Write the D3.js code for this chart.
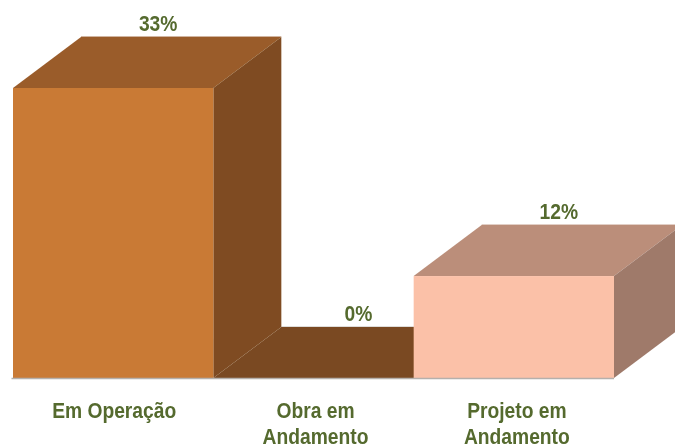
<!DOCTYPE html>
<html><head><meta charset="utf-8">
<script src="https://cdn.jsdelivr.net/npm/d3@7"></script>
<style>html,body{margin:0;padding:0;background:#fff;overflow:hidden}svg{display:block}
text{font-family:"Liberation Sans",Arial,sans-serif;font-weight:700;fill:#546a2e;text-anchor:middle}</style>
</head><body><svg id="c" width="675" height="446">
<defs><filter id="soft" x="-2%" y="-2%" width="104%" height="104%"><feGaussianBlur stdDeviation="0.45"/></filter></defs>
</svg>
<script>
const categories = [["Em Operação"], ["Obra em", "Andamento"], ["Projeto em", "Andamento"]];
const values = [33, 0, 11.6];
const valueLabels = ["33%", "0%", "12%"];
const frontColors = ["#c97a36", "#7a4a22", "#fbc1a8"];
const topColors = ["#9a5c2a", "#7a4a22", "#bb8e7a"];
const sideColors = ["#7f4c21", "#7a4a22", "#9f7a6a"];

const dx = 68, dy = 51, squeeze = 0.875, fontSize = 22;
const svg = d3.select("#c");
const root = svg.append("g").attr("filter", "url(#soft)");
const x = d3.scaleBand().domain(d3.range(values.length)).range([13, 614]).padding(0);
const y = d3.scaleLinear().domain([0, 33]).range([378, 88]);
const pts = a => a.map(p => p.join(",")).join(" ");

// draw back to front: bar 2 floor first, then bar 1 and bar 3
const order = [1, 0, 2];
const g = root.selectAll("g.bar").data(order).join("g").attr("class", "bar");
g.each(function (i) {
  const s = d3.select(this), l = x(i), r = l + x.bandwidth(), t = y(values[i]), b = y(0);
  s.append("polygon").attr("fill", topColors[i])
    .attr("points", pts([[l, t], [l + dx, t - dy], [r + dx, t - dy], [r, t]]));
  s.append("polygon").attr("fill", sideColors[i])
    .attr("points", pts([[r, t], [r + dx, t - dy], [r + dx, b - dy], [r, b]]));
  if (values[i] > 0) s.append("rect").attr("x", l).attr("y", t).attr("width", r - l).attr("height", b - t).attr("fill", frontColors[i]);
  s.append("line").attr("x1", l + dx).attr("x2", r + dx).attr("y1", t - dy - .5).attr("y2", t - dy - .5)
    .attr("stroke", values[i] > 0 ? topColors[i] : "#b9b4ae").attr("stroke-opacity", .45);
});
// baseline
root.append("line").attr("x1", x(0) - 1.5).attr("x2", x(2) + x.bandwidth()).attr("y1", y(0) + .5).attr("y2", y(0) + .5)
  .attr("stroke", "#b5b0ac").attr("stroke-width", 1.5);

const labels = root.append("g");
labels.selectAll("text.v").data(values).join("text").attr("class", "v")
  .attr("transform", (d, i) => `translate(${x(i) + x.bandwidth() / 2 + 45},${y(d) - dy - 6.5}) scale(${squeeze},1)`)
  .attr("font-size", fontSize).text((d, i) => valueLabels[i]);
const cat = labels.selectAll("text.c").data(categories).join("text").attr("class", "c")
  .attr("transform", (d, i) => `translate(${x(i) + x.bandwidth() / 2 + i + 1},418) scale(${squeeze},1)`)
  .attr("font-size", fontSize);
cat.selectAll("tspan").data(d => d).join("tspan")
  .attr("x", 0).attr("dy", (d, i) => i ? 26.5 : 0).text(d => d);
</script></body></html>
